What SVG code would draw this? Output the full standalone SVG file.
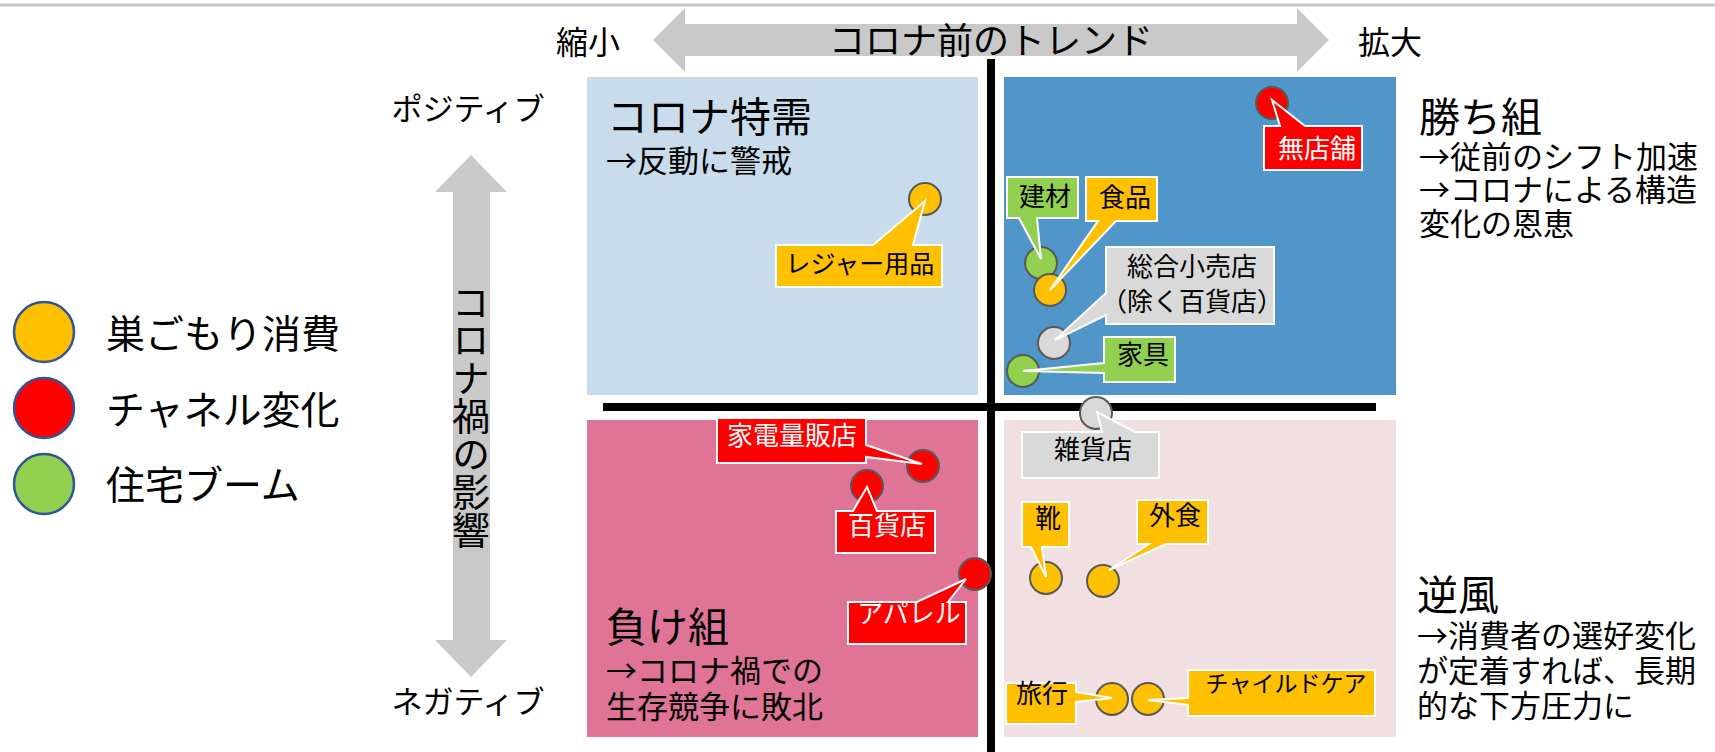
<svg xmlns="http://www.w3.org/2000/svg" width="1715" height="752" viewBox="0 0 1715 752">
<defs>
<style>
text { font-family: "Noto Sans CJK JP", "Noto Sans", sans-serif; fill: #000; }
.ax { font-size: 32px; }
.pn { font-size: 30px; }
.h1 { font-size: 41px; }
.b { font-size: 31px; }
.lg { font-size: 39px; }
.cl { font-size: 26px; text-anchor: middle; }
.w { fill: #fff; }
.dot { stroke: #595959; stroke-width: 2; }
.co { stroke: #fff; stroke-width: 2; stroke-linejoin: miter; }
.or { fill: #FFC000; }
.rd { fill: #FF0000; }
.gr { fill: #92D050; }
.gy { fill: #D9D9D9; }
.leg { stroke: #2F5597; stroke-width: 2.5; }
.arrow { fill: #C9C9C9; }
.axis { stroke: #000; stroke-width: 8; }
</style>
</defs>
<rect width="1715" height="752" fill="#fff"/>
<line x1="0" y1="5" x2="1715" y2="5" stroke="#C8C8C8" stroke-width="3"/>

<g id="quadrants">
  <rect id="q-tl" x="587" y="77" width="391" height="318" fill="#C9DCEB"/>
  <rect id="q-tr" x="1004" y="77" width="392" height="318" fill="#5096C8"/>
  <rect id="q-bl" x="587" y="420" width="391" height="317" fill="#DF7497"/>
  <rect id="q-br" x="1004" y="420" width="392" height="317" fill="#F2DFE2"/>
</g>

<g id="axes">
  <polygon id="arrow-h" class="arrow" points="653,40 685,8 685,24 1297,24 1297,8 1329,40 1297,72 1297,56 685,56 685,72"/>
  <polygon id="arrow-v" class="arrow" points="471,155 507,192 490,192 490,640 507,640 471,677 435,640 453,640 453,192 435,192"/>
  <text class="ax" x="991" y="54" text-anchor="middle" style="font-size:36px">コロナ前のトレンド</text>
  <text class="ax" x="588" y="54" text-anchor="middle">縮小</text>
  <text class="ax" x="1390" y="54" text-anchor="middle">拡大</text>
  <text class="pn" x="468" y="120" text-anchor="middle" style="font-size:31px">ポジティブ</text>
  <text class="pn" x="468" y="713" text-anchor="middle" style="font-size:31px">ネガティブ</text>
  <text x="471" y="416" writing-mode="vertical-rl" text-anchor="middle" style="font-size:38px">コロナ禍の影響</text>
  <line class="axis" x1="991" y1="59" x2="991" y2="752"/>
  <line class="axis" x1="603" y1="407" x2="1376" y2="407"/>
</g>

<g id="legend">
  <g id="legend-nest"><circle class="leg or" cx="44" cy="332" r="30"/><text class="lg" x="106" y="348">巣ごもり消費</text></g>
  <g id="legend-channel"><circle class="leg rd" cx="44" cy="408" r="30"/><text class="lg" x="106" y="424">チャネル変化</text></g>
  <g id="legend-housing"><circle class="leg gr" cx="44" cy="484" r="30"/><text class="lg" x="106" y="499">住宅ブーム</text></g>
</g>

<g id="titles">
  <g id="title-tl"><text class="h1" x="607" y="132">コロナ特需</text><text class="b" x="606" y="172">→反動に警戒</text></g>
  <g id="title-tr"><text class="h1" x="1419" y="132">勝ち組</text><text class="b" x="1419" y="168">→従前のシフト加速<tspan x="1419" dy="33">→コロナによる構造</tspan><tspan x="1419" dy="34">変化の恩恵</tspan></text></g>
  <g id="title-bl"><text class="h1" x="606" y="642">負け組</text><text class="b" x="606" y="682">→コロナ禍での<tspan x="606" dy="36">生存競争に敗北</tspan></text></g>
  <g id="title-br"><text class="h1" x="1417" y="610">逆風</text><text class="b" x="1417" y="647">→消費者の選好変化<tspan x="1417" dy="35">が定着すれば、長期</tspan><tspan x="1417" dy="35">的な下方圧力に</tspan></text></g>
</g>

<g id="dots">
  <circle class="dot or" cx="925" cy="199" r="16"/>
  <circle class="dot rd" cx="1272" cy="103" r="16"/>
  <circle class="dot gr" cx="1041" cy="263" r="16"/>
  <circle class="dot or" cx="1050" cy="290" r="16"/>
  <circle class="dot gy" cx="1054" cy="343" r="16"/>
  <circle class="dot gr" cx="1023" cy="371" r="16"/>
  <circle class="dot rd" cx="923" cy="466" r="16"/>
  <circle class="dot rd" cx="867" cy="486" r="16"/>
  <circle class="dot rd" cx="975" cy="574" r="16"/>
  <circle class="dot gy" cx="1096" cy="413" r="16"/>
  <circle class="dot or" cx="1046" cy="578" r="16"/>
  <circle class="dot or" cx="1103" cy="581" r="16"/>
  <circle class="dot or" cx="1112" cy="699" r="16"/>
  <circle class="dot or" cx="1148" cy="699" r="16"/>
</g>

<g id="connectors">
  <g id="c-leisure"><path class="co or" d="M776,245 H873 L925,201 L913,245 H942 V287 H776 Z"/><text class="cl" x="860" y="273" style="font-size:25px">レジャー用品</text></g>
  <g id="c-nostore"><path class="co rd" d="M1264,126 H1280 L1272,100 L1305,126 H1362 V170 H1264 Z"/><text class="cl w" x="1317" y="158">無店舗</text></g>
  <g id="c-building"><path class="co gr" d="M1007,177 H1078 V218 H1037 L1041,259 L1019,218 H1007 Z"/><text class="cl" x="1045" y="206">建材</text></g>
  <g id="c-food"><path class="co or" d="M1086,177 H1157 V221 H1116 L1050,290 L1098,221 H1086 Z"/><text class="cl" x="1125" y="207">食品</text></g>
  <g id="c-gms"><path class="co gy" d="M1106,247 H1274 V324 H1106 V315 L1055,340 L1106,293 Z"/><text class="cl" x="1192" y="276">総合小売店<tspan x="1192" dy="35">（除く百貨店）</tspan></text></g>
  <g id="c-furniture"><path class="co gr" d="M1104,337 H1175 V382 H1104 V373 L1023,371 L1104,363 Z"/><text class="cl" x="1143" y="364">家具</text></g>
  <g id="c-electronics"><path class="co rd" d="M717,418 H866 V445 L922,464 L866,457 V463 H717 Z"/><text class="cl w" x="792" y="445">家電量販店</text></g>
  <g id="c-dept"><path class="co rd" d="M836,511 H853 L867,487 L877,511 H935 V553 H836 Z"/><text class="cl w" x="887" y="535">百貨店</text></g>
  <g id="c-apparel"><path class="co rd" d="M848,602 H917 L966,579 L948,602 H966 V644 H848 Z"/><text class="cl w" x="909" y="623">アパレル</text></g>
  <g id="c-goods"><path class="co gy" d="M1022,432 H1102 L1097,412 L1135,432 H1159 V478 H1022 Z"/><text class="cl" x="1093" y="459">雑貨店</text></g>
  <g id="c-shoes"><path class="co or" d="M1022,502 H1069 V547 H1042 L1046,577 L1031,547 H1022 Z"/><text class="cl" x="1048" y="528">靴</text></g>
  <g id="c-dining"><path class="co or" d="M1137,500 H1208 V544 H1166 L1109,570 L1149,544 H1137 Z"/><text class="cl" x="1175" y="525">外食</text></g>
  <g id="c-travel"><path class="co or" d="M1006,683 H1076 V692 L1112,698 L1076,702 V724 H1006 Z"/><text class="cl" x="1042" y="703">旅行</text></g>
  <g id="c-childcare"><path class="co or" d="M1188,670 H1375 V716 H1188 V705 L1148,700 L1188,698 Z"/><text class="cl" x="1286" y="692" style="font-size:23px">チャイルドケア</text></g>
</g>
</svg>
